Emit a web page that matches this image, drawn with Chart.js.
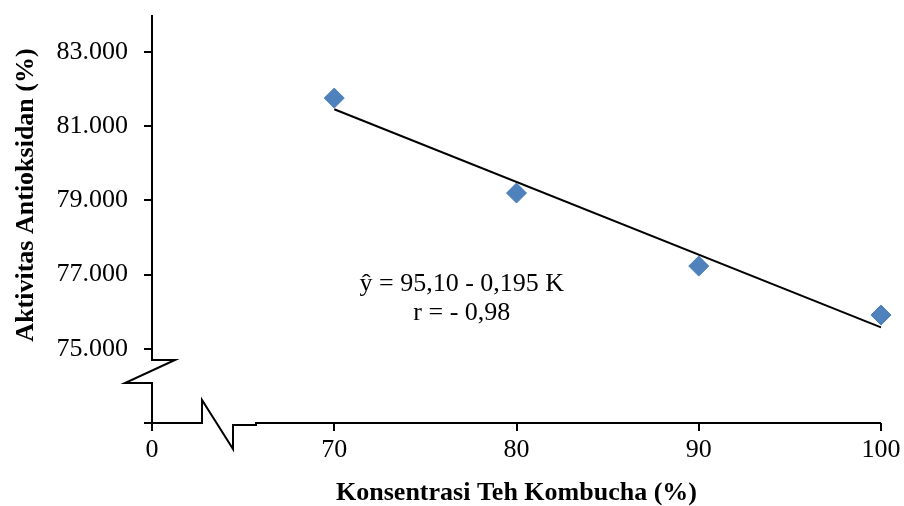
<!DOCTYPE html>
<html>
<head>
<meta charset="utf-8">
<script src="https://cdn.jsdelivr.net/npm/chart.js@4/dist/chart.umd.min.js"></script>
<style>
    html, body { margin: 0; padding: 0; background: #ffffff; }
    #wrap { width: 904px; height: 506px; }
</style>
</head>
<body>
<div id="wrap"><canvas id="chart" width="904" height="506"></canvas></div>
<script>
// konsentrasi teh kombucha (%) vs aktivitas antioksidan (%)
const konsentrasi = [70, 80, 90, 100];
const aktivitas = [81.76, 79.20, 77.23, 75.91];

// garis regresi y = 95,10 - 0,195 K (titik ujung)
const trendX = [70, 100];
const trendY = [81.46, 75.58];

const xTicks = [60, 70, 80, 90, 100];
const xTickLabels = ['0', '70', '80', '90', '100'];
const yTicks = [73, 75, 77, 79, 81, 83];

const equationLines = ['\u0177 = 95,10 - 0,195 K', 'r = - 0,98'];

const serif = "'Liberation Serif', 'Times New Roman', serif";

// draws the broken axes, the y title and the equation text
const breakAxes = {
    id: 'breakAxes',
    afterDraw(chart) {
        const ctx = chart.ctx;
        const area = chart.chartArea;
        const x = chart.scales.x;
        const y = chart.scales.y;
        const L = area.left;
        const B = area.bottom;

        ctx.save();
        ctx.strokeStyle = '#000000';
        ctx.lineWidth = 2;
        ctx.lineJoin = 'miter';

        // y axis with break
        ctx.beginPath();
        ctx.moveTo(L, area.top);
        ctx.lineTo(L, B - 63);
        ctx.lineTo(L + 23, B - 63);
        ctx.lineTo(L - 27, B - 40);
        ctx.lineTo(L, B - 40);
        ctx.lineTo(L, B);
        ctx.stroke();

        // x axis with break
        ctx.beginPath();
        ctx.moveTo(L - 8, B);
        ctx.lineTo(L + 50, B);
        ctx.lineTo(L + 50, B - 23);
        ctx.lineTo(L + 81, B + 26);
        ctx.lineTo(L + 81, B + 2);
        ctx.lineTo(L + 104, B + 2);
        ctx.lineTo(L + 104, B);
        ctx.lineTo(area.right, B);
        ctx.stroke();

        // y axis title
        ctx.fillStyle = '#000000';
        ctx.font = 'bold 26px ' + serif;
        ctx.textAlign = 'center';
        ctx.textBaseline = 'alphabetic';
        ctx.save();
        ctx.translate(33, 195);
        ctx.rotate(-Math.PI / 2);
        ctx.fillText('Aktivitas Antioksidan (%)', 0, 0);
        ctx.restore();

        // equation
        ctx.font = '26px ' + serif;
        const ex = x.getPixelForValue(77.0);
        ctx.fillText(equationLines[0], ex, y.getPixelForValue(76.56));
        ctx.fillText(equationLines[1], ex, y.getPixelForValue(75.78));
        ctx.restore();
    }
};

const ctx = document.getElementById('chart').getContext('2d');
new Chart(ctx, {
    type: 'scatter',
    data: {
        datasets: [
            {
                label: 'Aktivitas Antioksidan',
                data: konsentrasi.map((k, i) => ({ x: k, y: aktivitas[i] })),
                pointStyle: 'rectRot',
                pointRadius: 10,
                pointHoverRadius: 10,
                backgroundColor: '#4F81BD',
                borderColor: '#4A7EBB',
                borderWidth: 1,
                clip: false,
                order: 1
            },
            {
                label: 'Regresi',
                data: trendX.map((k, i) => ({ x: k, y: trendY[i] })),
                showLine: true,
                pointRadius: 0,
                borderColor: '#000000',
                borderWidth: 2,
                fill: false,
                clip: false,
                order: 2
            }
        ]
    },
    options: {
        responsive: false,
        animation: false,
        layout: { padding: { left: 0, top: 15, right: 23, bottom: 0 } },
        plugins: {
            legend: { display: false },
            tooltip: { enabled: false }
        },
        scales: {
            x: {
                type: 'linear',
                min: 60,
                max: 100,
                afterBuildTicks: scale => { scale.ticks = xTicks.map(v => ({ value: v })); },
                afterFit: scale => {
                    scale.height = 83;
                    scale.paddingLeft = 0;
                    scale.paddingRight = 0;
                },
                border: { display: false },
                grid: {
                    drawOnChartArea: false,
                    drawTicks: true,
                    tickLength: 8,
                    color: '#000000',
                    lineWidth: 2
                },
                ticks: {
                    color: '#000000',
                    padding: 4,
                    maxRotation: 0,
                    font: { family: serif, size: 26 },
                    callback: function(value) {
                        const i = xTicks.indexOf(value);
                        return i >= 0 ? xTickLabels[i] : '';
                    }
                },
                title: {
                    display: true,
                    text: 'Konsentrasi Teh Kombucha (%)',
                    color: '#000000',
                    padding: 0,
                    font: { family: serif, size: 26, weight: 'bold', lineHeight: 1 }
                }
            },
            y: {
                type: 'linear',
                min: 73,
                max: 84,
                afterBuildTicks: scale => { scale.ticks = yTicks.map(v => ({ value: v })); },
                afterFit: scale => {
                    scale.width = 152;
                    scale.paddingTop = 0;
                    scale.paddingBottom = 0;
                },
                border: { display: false },
                grid: {
                    drawOnChartArea: false,
                    drawTicks: true,
                    tickLength: 8,
                    color: '#000000',
                    lineWidth: 2
                },
                ticks: {
                    color: '#000000',
                    padding: 16,
                    font: { family: serif, size: 26 },
                    callback: function(value) {
                        return value === 73 ? '' : value.toFixed(3);
                    }
                }
            }
        }
    },
    plugins: [breakAxes]
});
</script>
</body>
</html>
